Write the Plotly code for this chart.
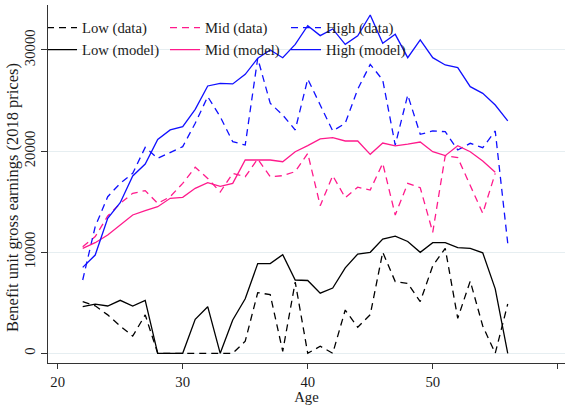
import plotly.graph_objects as go

# Age of the benefit unit head
ages = list(range(22, 57))
ages_mid = list(range(22, 56))

# Benefit unit gross earnings (2018 prices) by earnings group
low_data = [5100, 4700, 3800, 2700, 1700, 3800, 0, 0, 0, 0, 0, 0, 0, 1200,
            6000, 5800, 200, 7050, 0, 700, 0, 4280, 2580, 3820, 10000, 7090,
            6920, 5110, 8650, 10380, 3460, 7140, 2700, 0, 4880]
low_model = [4610, 4870, 4680, 5240, 4680, 5240, 0, 0, 0, 3360, 4610, 0, 3300,
             5400, 8870, 8870, 9760, 7250, 7200, 5950, 6450, 8450, 9820, 9990,
             11290, 11590, 11060, 9990, 10940, 10940, 10460, 10380, 9940, 6380, 0]
mid_data = [10550, 11540, 13580, 14830, 15820, 16090, 14830, 15490, 16810, 18400,
            17300, 15950, 17800, 17470, 19220, 17470, 17570, 17970, 19780, 14600,
            17570, 15390, 16430, 16150, 18790, 13680, 16810, 16380, 11970, 19550,
            19350, 16650, 13850, 17800]
mid_model = [10380, 10940, 11700, 12690, 13680, 14110, 14500, 15330, 15430, 16320,
             16880, 16520, 16810, 19120, 19120, 19120, 18950, 19940, 20540, 21200,
             21330, 21000, 21000, 19680, 20800, 20520, 20680, 20900, 19940, 19550,
             20540, 19940, 19020, 17900]
high_data = [7250, 12530, 15490, 16810, 17800, 20370, 19290, 19850, 20440, 22750,
             25380, 23400, 20930, 20600, 29180, 24730, 23570, 22090, 27130, 24560,
             21990, 22750, 26120, 28580, 27030, 20600, 25550, 21660, 21990, 21920,
             20110, 20770, 20340, 21990, 10880]
high_model = [8500, 9720, 13350, 14900, 17540, 18720, 21160, 22090, 22420, 24130,
              26440, 26700, 26640, 27590, 29180, 30000, 29240, 30560, 32410, 31420,
              32080, 30560, 31400, 33460, 30660, 31550, 29240, 30990, 29240, 28520,
              28250, 26370, 25710, 24560, 22980]

x_ticks = [20, 30, 40, 50, 60]
y_ticks = [0, 10000, 20000, 30000]
y_tick_text = ["0", "10000", "20000", "30000"]
y_title = "Benefit unit gross earnings (2018 prices)"

BLACK = "#000000"
PINK = "#ff1a8c"
BLUE = "#1010ff"
DASH = "7px,5px"
LW = 1.3
FONT = "Liberation Serif, Times New Roman, serif"
TEXT = "#1a1a1a"

W, H = 565, 405
ML, MR, MT, MB = 48, 0, 5, 42
PW, PH = W - ML - MR, H - MT - MB


def px_x(p):
    return (p - ML) / PW


def px_y(p):
    return (H - MB - p) / PH


# legend key grid (page pixels): three columns (Low / Mid / High), two rows (data / model)
# each column: (left edge of the legend box, entry indentation)
COLS = [(48, -6), (165, 0), (286, 0)]
ROW_Y = [28, 50]

fig = go.Figure()
series = [
    ("Low (data)", ages, low_data, BLACK, DASH, 0, 0),
    ("Mid (data)", ages_mid, mid_data, PINK, DASH, 1, 0),
    ("High (data)", ages, high_data, BLUE, DASH, 2, 0),
    ("Low (model)", ages, low_model, BLACK, "solid", 0, 1),
    ("Mid (model)", ages_mid, mid_model, PINK, "solid", 1, 1),
    ("High (model)", ages, high_model, BLUE, "solid", 2, 1),
]
legends = {}
for i, (name, xs, ys, col, dash, c, r) in enumerate(series):
    key = "legend" if i == 0 else f"legend{i + 1}"
    fig.add_trace(go.Scatter(
        x=xs, y=ys, mode="lines", name=name, legend=key,
        line=dict(color=col, width=LW, dash=dash),
    ))
    left, indent = COLS[c]
    legends[key] = dict(
        x=px_x(left), y=px_y(ROW_Y[r]), indentation=indent,
        xanchor="left", yanchor="middle", orientation="v",
        bgcolor="rgba(0,0,0,0)", borderwidth=0, itemwidth=30,
        font=dict(family=FONT, size=14.7, color=TEXT),
    )

fig.update_layout(
    width=W, height=H,
    margin=dict(l=ML, r=MR, t=MT, b=MB, pad=0, autoexpand=False),
    paper_bgcolor="white", plot_bgcolor="white",
    font=dict(family=FONT, size=14.7, color=TEXT),
    showlegend=True,
    **legends,
    xaxis=dict(
        range=[19.224, 60.58], tickvals=x_ticks, ticks="outside", ticklen=5,
        tickcolor="#333333", showline=True, linecolor="#333333", linewidth=1,
        showgrid=False, zeroline=False,
        title=dict(text="Age", font=dict(size=14.7), standoff=4),
        tickfont=dict(size=14.7),
    ),
    yaxis=dict(
        range=[-959, 34450], tickvals=y_ticks, ticktext=y_tick_text,
        ticks="outside", ticklen=6,
        tickcolor="#333333", showline=True, linecolor="#333333", linewidth=1,
        showgrid=True, gridcolor="#e6eef1", gridwidth=1, zeroline=False,
        tickangle=-90, tickfont=dict(size=14.7),
    ),
    annotations=[dict(
        text=y_title, xref="paper", yref="paper",
        x=px_x(12), y=px_y(198), xanchor="center", yanchor="middle",
        textangle=-90, showarrow=False,
        font=dict(family=FONT, size=16.5, color=TEXT),
    )],
)

fig.write_html("out.html")
